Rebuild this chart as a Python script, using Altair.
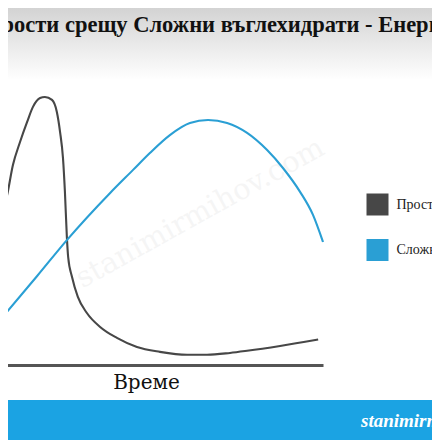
import altair as alt
import pandas as pd

# ---- data (arbitrary time / energy units) ----
series_names = ["Прости", "Сложни"]

simple_time = [0, 0.22, 0.40, 0.62, 0.84, 1.02, 1.24, 1.39, 1.61, 1.76, 1.86, 1.95, 2.01,
               2.07, 2.11, 2.23, 2.41, 2.69, 3.10, 3.62, 4.24, 4.95, 5.79, 6.41, 7.12,
               7.65, 8.67, 9.85]
simple_energy = [5.49, 6.34, 7.46, 8.32, 9.07, 9.63, 9.96, 10.0, 9.89, 9.44, 8.69, 7.72, 6.46,
                 4.78, 4.03, 3.28, 2.54, 1.94, 1.42, 1.01, 0.67, 0.49, 0.38, 0.38, 0.45,
                 0.53, 0.71, 0.95]

complex_time = [0, 1.15, 2.07, 3.41, 4.12, 4.64, 5.26, 5.88, 6.44, 7.03, 7.65, 8.27,
                8.76, 9.29, 9.69, 10.0]
complex_energy = [1.68, 3.32, 4.66, 6.42, 7.28, 7.91, 8.58, 9.03, 9.14, 9.03, 8.66, 8.02,
                  7.35, 6.46, 5.60, 4.59]

title_text = "Прости срещу Сложни въглехидрати - Енергия"
x_title = "Време"
watermark = "stanimirmihov.com"

# ---- table ----
df = pd.concat([
    pd.DataFrame({"t": simple_time, "e": simple_energy, "series": series_names[0]}),
    pd.DataFrame({"t": complex_time, "e": complex_energy, "series": series_names[1]}),
], ignore_index=True)

W, H, BOTTOM = 424, 357, 75
one = alt.Data(values=[{}])

dark = "#474747"
blue = "#2a9fd4"

lines = alt.Chart(df).mark_line(strokeWidth=2.1, interpolate="monotone").encode(
    x=alt.X("t:Q", scale=alt.Scale(domain=[0, 10], range=[-8, 315]),
            axis=alt.Axis(title=x_title, labels=False, ticks=False, grid=False,
                          domainColor="#555555", domainWidth=3,
                          titleFont="DejaVu Serif", titleFontSize=20, titleFontWeight="normal",
                          titleColor="#111111", titleX=138, titleY=23,
                          titleBaseline="alphabetic")),
    y=alt.Y("e:Q", scale=alt.Scale(domain=[0, 13.32]), axis=None),
    color=alt.Color("series:N",
                    scale=alt.Scale(domain=series_names, range=[dark, blue]),
                    legend=alt.Legend(orient="none", legendX=358.5, legendY=185.5, title=None,
                                      symbolType="square", symbolSize=121, symbolStrokeWidth=11,
                                      labelFont="Liberation Serif", labelFontSize=14,
                                      labelColor="#222222", rowPadding=-10.5, labelOffset=8,
                                      padding=0)),
    order="t:Q",
)

grad = alt.Chart(one).mark_rect(
    color=alt.Gradient(gradient="linear", x1=0, x2=0, y1=0, y2=1,
                       stops=[alt.GradientStop(color="#d3d3d3", offset=0),
                              alt.GradientStop(color="#ffffff", offset=1)])
).encode(x=alt.value(0), x2=alt.value(W), y=alt.value(0), y2=alt.value(72))

band = alt.Chart(one).mark_rect(color="#1ba3e3").encode(
    x=alt.value(0), x2=alt.value(W), y=alt.value(392), y2=alt.value(H + BOTTOM))

wm = alt.Chart(one).mark_text(text=watermark, font="DejaVu Serif", fontSize=29, angle=331,
                              color="#000000", opacity=0.035, align="center",
                              baseline="middle").encode(x=alt.value(192), y=alt.value(205))

title = alt.Chart(one).mark_text(text=title_text, font="Liberation Serif", fontSize=22.5,
                                 fontWeight="bold", color="#111111", align="left",
                                 baseline="alphabetic").encode(x=alt.value(-24), y=alt.value(23.5))

band_text = alt.Chart(one).mark_text(text=watermark, font="Liberation Serif", fontSize=19,
                                     fontStyle="italic", fontWeight="bold", color="#ffffff",
                                     align="left", baseline="alphabetic").encode(
    x=alt.value(353), y=alt.value(419))

chart = alt.layer(grad, wm, band, lines, title, band_text).properties(
    width=W, height=H,
    padding={"left": 0, "top": 0, "right": 0, "bottom": BOTTOM},
    autosize=alt.AutoSizeParams(type="none"),
    background="white",
).configure_view(stroke=None)

chart.save("out.html", embed_options={"renderer": "svg", "actions": False})
